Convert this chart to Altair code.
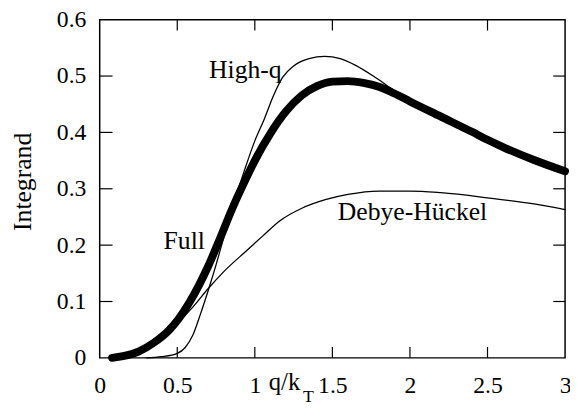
import altair as alt
import pandas as pd

# ---- data ----
full_q = [0.08, 0.15, 0.25, 0.35, 0.45, 0.5, 0.58, 0.7, 0.77, 0.85, 0.95, 1.0, 1.1, 1.2, 1.3,
          1.4, 1.5, 1.6, 1.7, 1.8, 1.9, 2.0, 2.2, 2.4, 2.5, 2.6, 2.8, 3.0]
full_v = [0.000, 0.003, 0.011, 0.027, 0.050, 0.066, 0.099, 0.163, 0.208, 0.262, 0.322, 0.350,
          0.398, 0.437, 0.465, 0.482, 0.490, 0.491, 0.488, 0.481, 0.469, 0.455, 0.428, 0.401,
          0.387, 0.374, 0.351, 0.331]

highq_q = [0.3, 0.4, 0.5, 0.55, 0.6, 0.65, 0.7, 0.75, 0.8, 0.85, 0.93, 1.0, 1.06, 1.12, 1.18,
           1.25, 1.35, 1.45, 1.55, 1.65, 1.78, 1.9, 2.0, 2.2, 2.4, 2.5, 2.6, 2.8, 3.0]
highq_v = [0.000, 0.002, 0.008, 0.018, 0.040, 0.078, 0.120, 0.165, 0.214, 0.262, 0.330, 0.385,
           0.423, 0.465, 0.498, 0.518, 0.531, 0.535, 0.531, 0.519, 0.497, 0.474, 0.456, 0.428,
           0.401, 0.387, 0.374, 0.351, 0.331]

dh_q = [0.08, 0.2, 0.3, 0.4, 0.5, 0.6, 0.7, 0.8, 0.95, 1.05, 1.16, 1.3, 1.46, 1.6, 1.8, 2.0,
        2.2, 2.5, 2.8, 3.0]
dh_v = [0.000, 0.006, 0.018, 0.037, 0.061, 0.090, 0.123, 0.153, 0.191, 0.216, 0.243, 0.265,
        0.281, 0.290, 0.296, 0.296, 0.293, 0.284, 0.273, 0.263]

label_text = ["High-q", "Full", "Debye-Hückel"]
label_q = [0.705, 0.412, 1.535]
label_v = [0.496, 0.194, 0.244]

x_tick_values = [0, 0.5, 1, 1.5, 2, 2.5, 3]
y_tick_values = [0, 0.1, 0.2, 0.3, 0.4, 0.5, 0.6]
x_inner_ticks = [0.5, 1, 1.5, 2, 2.5]
y_inner_ticks = [0.1, 0.2, 0.3, 0.4, 0.5]

x_title = "q/k"
x_title_sub = "T"
y_title = "Integrand"

# ---- chart ----
W, H = 472, 343
FONT = "Liberation Serif"

df_full = pd.DataFrame({"q": full_q, "v": full_v})
df_highq = pd.DataFrame({"q": highq_q, "v": highq_v})
df_dh = pd.DataFrame({"q": dh_q, "v": dh_v})
df_labels = pd.DataFrame({"q": label_q, "v": label_v, "t": label_text})
df_xt = pd.DataFrame({"q": x_inner_ticks})
df_yt = pd.DataFrame({"v": y_inner_ticks})
df_sub = pd.DataFrame({"q": [1.31], "v": [-0.079], "t": [x_title_sub]})

xs = alt.Scale(domain=[0, 3], nice=False, zero=False)
ys = alt.Scale(domain=[0, 0.6], nice=False)

x_axis = alt.Axis(values=x_tick_values, labelExpr="'' + datum.value", ticks=False, domain=False,
                  grid=False, labelFont=FONT, labelFontSize=24, labelColor="black",
                  labelPadding=16, labelFlush=False, title=x_title, titleFont=FONT,
                  titleFontSize=25, titleFontWeight="normal", titleColor="black",
                  titleX=171, titleY=32, titleAlign="left", titleBaseline="alphabetic",
                  titleAngle=0)
y_axis = alt.Axis(values=y_tick_values, labelExpr="'' + datum.value", ticks=False, domain=False,
                  grid=False, labelFont=FONT, labelFontSize=24, labelColor="black",
                  labelPadding=14, labelFlush=False, title=y_title, titleFont=FONT,
                  titleFontSize=26, titleFontWeight="normal", titleColor="black",
                  titleX=-70, titleY=164, titleAlign="center", titleBaseline="alphabetic",
                  titleAngle=270)

base_x = alt.X("q:Q", scale=xs, axis=x_axis)
base_y = alt.Y("v:Q", scale=ys, axis=y_axis)

full_line = alt.Chart(df_full).mark_line(color="black", strokeWidth=8, interpolate="monotone",
                                         strokeCap="round").encode(x=base_x, y=base_y, order="q:Q")
highq_line = alt.Chart(df_highq).mark_line(color="black", strokeWidth=1.3,
                                           interpolate="monotone").encode(
    x=alt.X("q:Q", scale=xs), y=alt.Y("v:Q", scale=ys), order="q:Q")
dh_line = alt.Chart(df_dh).mark_line(color="black", strokeWidth=1.3,
                                     interpolate="monotone").encode(
    x=alt.X("q:Q", scale=xs), y=alt.Y("v:Q", scale=ys), order="q:Q")

labels = alt.Chart(df_labels).mark_text(font=FONT, fontSize=26, color="black", align="left",
                                        baseline="alphabetic").encode(
    x=alt.X("q:Q", scale=xs), y=alt.Y("v:Q", scale=ys), text="t:N")
sub = alt.Chart(df_sub).mark_text(font=FONT, fontSize=18, color="black", align="left",
                                  baseline="alphabetic").encode(
    x=alt.X("q:Q", scale=xs), y=alt.Y("v:Q", scale=ys), text="t:N")

tick_bottom = alt.Chart(df_xt).mark_rule(color="black", strokeWidth=1.2).encode(
    x=alt.X("q:Q", scale=xs), y=alt.value(H), y2=alt.value(H - 11))
tick_top = alt.Chart(df_xt).mark_rule(color="black", strokeWidth=1.2).encode(
    x=alt.X("q:Q", scale=xs), y=alt.value(0), y2=alt.value(11))
tick_left = alt.Chart(df_yt).mark_rule(color="black", strokeWidth=1.2).encode(
    y=alt.Y("v:Q", scale=ys), x=alt.value(0), x2=alt.value(13))
tick_right = alt.Chart(df_yt).mark_rule(color="black", strokeWidth=1.2).encode(
    y=alt.Y("v:Q", scale=ys), x=alt.value(W), x2=alt.value(W - 12))

chart = alt.layer(
    full_line, highq_line, dh_line, labels, sub,
    tick_bottom, tick_top, tick_left, tick_right
).properties(
    width=W, height=H,
    autosize=alt.AutoSizeParams(type="none"),
    padding={"left": 93, "top": 9, "right": 5, "bottom": 48},
    background="white",
).configure(font=FONT).configure_view(stroke="black", strokeWidth=1.5)

chart.save("out.html", embed_options={"renderer": "svg", "actions": False})
